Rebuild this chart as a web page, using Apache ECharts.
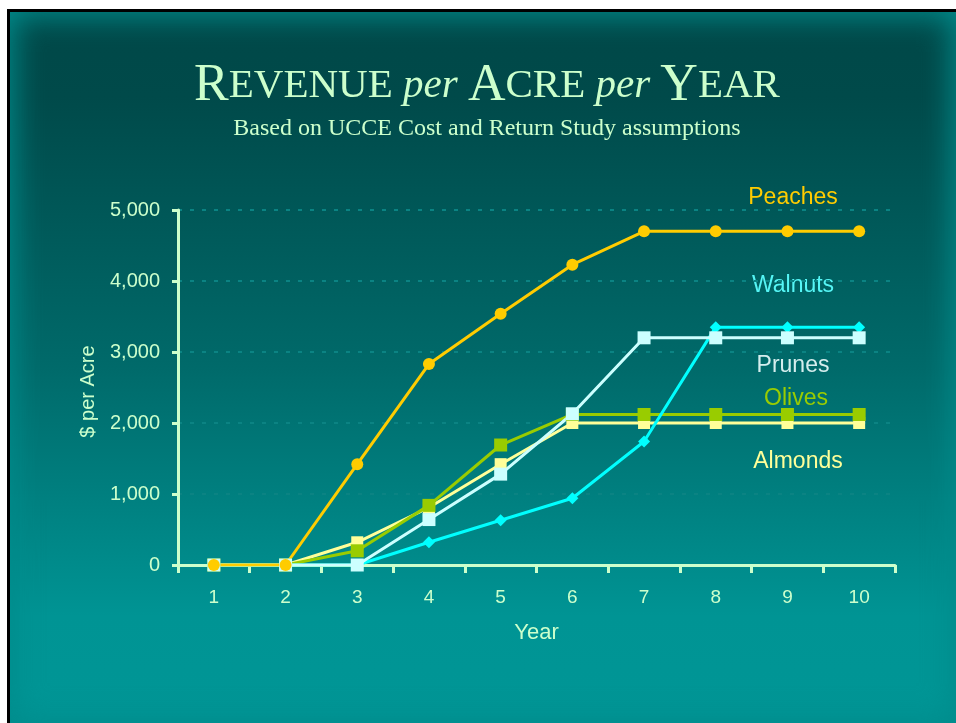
<!DOCTYPE html>
<html>
<head>
<meta charset="utf-8">
<script src="https://cdn.jsdelivr.net/npm/echarts@6/dist/echarts.min.js"></script>
<style>
  html, body { margin: 0; padding: 0; background: #fff; }
  #frame {
    position: absolute; left: 7px; top: 9px; width: 949px; height: 714px;
    border-top: 3px solid #000; border-left: 3px solid #000; box-sizing: border-box;
    background: linear-gradient(to bottom, #004848 0%, #004a4a 12%, #006a6a 50%, #009494 85%, #009696 100%);
    box-shadow: inset 0 0 30px 4px #008c8c;
  }
  #container { position: absolute; left: 0; top: 0; width: 956px; height: 723px; }
</style>
</head>
<body>
<div id="frame"></div>
<div id="container"></div>
<script>
var years = ['1', '2', '3', '4', '5', '6', '7', '8', '9', '10'];
var yTicks = [0, 1000, 2000, 3000, 4000, 5000];

var almonds = [0, 0, 320, 810, 1420, 2000, 2000, 2000, 2000, 2000];
var olives = [0, 0, 200, 840, 1690, 2120, 2120, 2120, 2120, 2120];
var walnuts = [0, 0, 0, 320, 630, 940, 1740, 3350, 3350, 3350];
var prunes = [0, 0, 0, 640, 1280, 2130, 3200, 3200, 3200, 3200];
var peaches = [0, 0, 1420, 2830, 3540, 4230, 4700, 4700, 4700, 4700];

var light = '#ccffcc';
var shadow = '#001a1a';
var myChart = echarts.init(document.getElementById('container'));

function line(name, data, color, symbol, size) {
    return {
        name: name,
        type: 'line',
        data: data,
        symbol: symbol,
        symbolSize: size,
        showAllSymbol: true,
        lineStyle: { color: color, width: 3 },
        itemStyle: { color: color },
        emphasis: { disabled: true },
        animation: false
    };
}

function label(text, x, y, color) {
    return {
        type: 'text', x: x, y: y,
        style: { text: text, fill: color, font: '23px Arial, "Liberation Sans"', align: 'center', verticalAlign: 'middle' }
    };
}

function titleStyle(size, italic) {
    return {
        fontFamily: 'Liberation Serif', fontStyle: italic ? 'italic' : 'normal', fontSize: size, fill: light,
        textShadowColor: shadow, textShadowOffsetX: 2, textShadowOffsetY: 2
    };
}

myChart.setOption({
    backgroundColor: 'transparent',
    grid: { left: 178, right: 61, top: 210, bottom: 158 },
    xAxis: {
        type: 'category',
        data: years,
        boundaryGap: true,
        name: 'Year',
        nameLocation: 'middle',
        nameGap: 57,
        nameTextStyle: { color: light, fontSize: 22, fontFamily: 'Arial' },
        axisLine: { lineStyle: { color: light, width: 3 } },
        axisTick: { show: true, length: 8, alignWithLabel: false, lineStyle: { color: light, width: 3 } },
        axisLabel: { color: light, fontSize: 19, fontFamily: 'Arial', margin: 23 },
        splitLine: { show: false }
    },
    yAxis: {
        type: 'value',
        min: 0,
        max: 5000,
        interval: 1000,
        name: '$ per Acre',
        nameLocation: 'middle',
        nameGap: 80,
        nameRotate: 90,
        nameTextStyle: { color: light, fontSize: 20, fontFamily: 'Arial', padding: [0, 8, 0, 0] },
        axisLine: { show: true, lineStyle: { color: light, width: 3 } },
        axisTick: { show: true, length: 6, lineStyle: { color: light, width: 3 } },
        axisLabel: {
            color: light, fontSize: 20, fontFamily: 'Arial', margin: 18,
            formatter: function (v) { return yTicks.indexOf(v) >= 0 ? v.toLocaleString('en-US') : ''; }
        },
        splitLine: { show: true, lineStyle: { color: '#0b8383', type: [4, 8], width: 2 } }
    },
    series: [
        line('Almonds', almonds, '#ffff99', 'rect', 12),
        line('Olives', olives, '#99cc00', 'rect', 13),
        line('Walnuts', walnuts, '#00ffff', 'diamond', 12),
        line('Prunes', prunes, '#ccffff', 'rect', 13),
        line('Peaches', peaches, '#ffcc00', 'circle', 12)
    ],
    graphic: [
        {
            type: 'text', x: 487, y: 86,
            style: {
                text: '{b|R}{s|EVENUE }{i|per }{b|A}{s|CRE }{i|per }{b|Y}{s|EAR}',
                align: 'center', verticalAlign: 'middle',
                fill: light,
                rich: { b: titleStyle(52, false), s: titleStyle(41, false), i: titleStyle(41, true) }
            }
        },
        {
            type: 'text', x: 487, y: 129,
            style: {
                text: 'Based on UCCE Cost and Return Study assumptions',
                align: 'center', verticalAlign: 'middle',
                fill: light, font: '24px "Liberation Serif"',
                textShadowColor: shadow, textShadowOffsetX: 1, textShadowOffsetY: 1
            }
        },
        label('Peaches', 793, 198, '#ffcc00'),
        label('Walnuts', 793, 286, '#55f5f5'),
        label('Prunes', 793, 366, '#d5eeee'),
        label('Olives', 796, 399, '#99cc00'),
        label('Almonds', 798, 462, '#ffff99')
    ]
});
</script>
</body>
</html>
